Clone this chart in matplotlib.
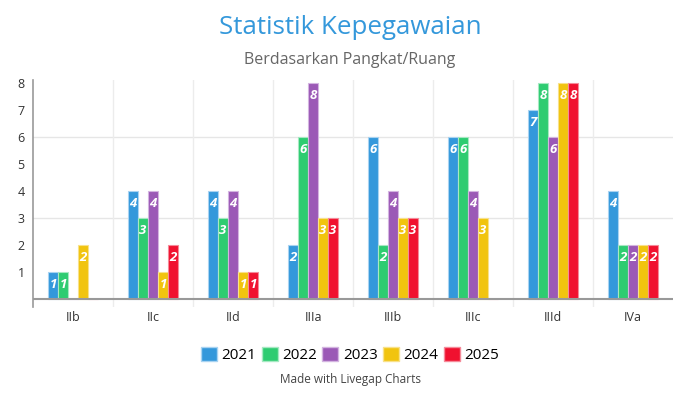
import matplotlib.pyplot as plt
import numpy as np
from matplotlib.patches import Patch

plt.rcParams['font.family'] = ['Open Sans', 'DejaVu Sans']

# Data
kategori = ['IIb', 'IIc', 'IId', 'IIIa', 'IIIb', 'IIIc', 'IIId', 'IVa']
tahun = ['2021', '2022', '2023', '2024', '2025']
v2021 = [1, 4, 4, 2, 6, 6, 7, 4]
v2022 = [1, 3, 3, 6, 2, 6, 8, 2]
v2023 = [0, 4, 4, 8, 4, 4, 6, 2]
v2024 = [2, 1, 1, 3, 3, 3, 8, 2]
v2025 = [0, 2, 1, 3, 3, 0, 8, 2]
semua = [v2021, v2022, v2023, v2024, v2025]

warna = ['#3498db', '#2ecc71', '#9b59b6', '#f1c40f', '#f0112f']
tepi = ['#a9d3f1', '#a6e9c2', '#d3b4e0', '#f8e18a', '#f58a99']

fig = plt.figure(figsize=(7, 4), dpi=100)
ax = fig.add_axes([33/700, 1 - 307/400, 640/700, (307 - 80.3)/400])

x = np.arange(len(kategori))
lebar = 0.125
for i, (vals, c, e) in enumerate(zip(semua, warna, tepi)):
    pos = x + (i - 2) * lebar
    bars = ax.bar(pos, vals, width=lebar * 0.95, color=c, edgecolor=e,
                  linewidth=0.8, zorder=3)
    for b, v in zip(bars, vals):
        if v > 0:
            ax.text(b.get_x() + b.get_width() / 2, v - 0.45, str(v),
                    ha='center', va='center', color='white', fontsize=9.5,
                    style='italic', fontweight='bold', zorder=4)

ax.set_xlim(-0.5, len(kategori) - 0.5)
ax.set_ylim(-0.3, 8.1)
ax.set_yticks(range(1, 9))
ax.set_xticks(x)
ax.set_xticklabels(kategori)
ax.tick_params(axis='both', length=0, labelsize=9, colors='#333333')
ax.tick_params(axis='y', pad=6)
ax.tick_params(axis='x', pad=3)

# gridlines
for yv in [3, 6]:
    ax.axhline(yv, color='#e6e6e6', linewidth=1, zorder=1)
for xv in np.arange(0.5, len(kategori) - 0.5, 1):
    ax.axvline(xv, color='#ececec', linewidth=1, zorder=1)
ax.axhline(0, color='#999999', linewidth=1.5, zorder=5)

for s in ['top', 'right', 'bottom']:
    ax.spines[s].set_visible(False)
ax.spines['left'].set_color('#999999')
ax.spines['left'].set_linewidth(1.2)

fig.text(0.5, 1 - 28/400, 'Statistik Kepegawaian', ha='center', va='center',
         fontsize=18.6, color='#3498db')
fig.text(0.5, 1 - 60/400, 'Berdasarkan Pangkat/Ruang', ha='center', va='center',
         fontsize=11.5, color='#666666')

handles = [Patch(facecolor=c, edgecolor=e, label=t) for c, e, t in zip(warna, tepi, tahun)]
fig.legend(handles=handles, loc='center', bbox_to_anchor=(0.5, 1 - 355/400),
           ncol=5, frameon=False, fontsize=11, handlelength=1.05, handleheight=1.05,
           handletextpad=0.3, columnspacing=0.35)
fig.text(0.5, 1 - 380/400, 'Made with Livegap Charts', ha='center', va='center',
         fontsize=8.5, color='#444444')

plt.savefig('out.png')
